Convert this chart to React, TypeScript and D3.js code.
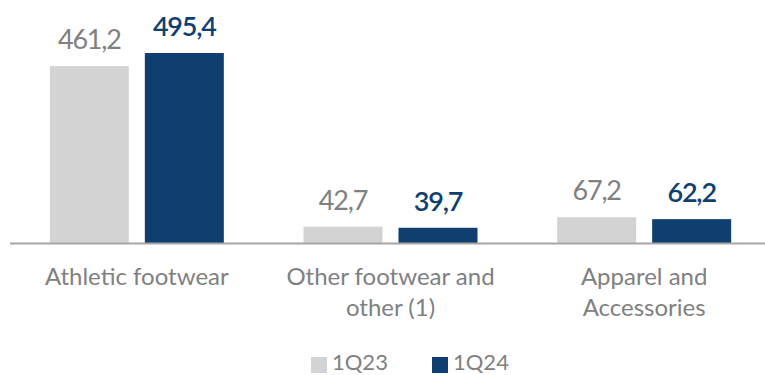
import React from "react";
import * as d3 from "d3";

const categories = ["Athletic footwear", "Other footwear and other (1)", "Apparel and Accessories"];
const categoryLines = [["Athletic footwear"], ["Other footwear and", "other (1)"], ["Apparel and", "Accessories"]];
const seriesNames = ["1Q23", "1Q24"];
const values1Q23 = [461.2, 42.7, 67.2];
const values1Q24 = [495.4, 39.7, 62.2];
const labels1Q23 = ["461,2", "42,7", "67,2"];
const labels1Q24 = ["495,4", "39,7", "62,2"];

const W = 765, H = 375;
const baseY = 243;
const colors = ["#d3d3d3", "#0f3f6f"];
const labelColors = ["#808080", "#0f3f6f"];
const FONT = "Lato, 'Open Sans', sans-serif";

export default function App() {
  const x = d3.scaleBand<string>().domain(categories).range([10, 771]).paddingInner(0).paddingOuter(0);
  const inner = d3.scaleBand<string>().domain(seriesNames).range([0, 174]).paddingInner(16 / 95).paddingOuter(0);
  const y = d3.scaleLinear().domain([0, 495.4]).range([baseY, 53]);
  const series = [values1Q23, values1Q24];
  const labels = [labels1Q23, labels1Q24];
  return (
    <svg width={W} height={H} style={{ position: "absolute", left: 0, top: 0, fontFamily: FONT }}>
      {categories.map((c, i) => {
        const cx = x(c)! + x.bandwidth() / 2;
        const gx = cx - 87;
        return (
          <g key={c}>
            {series.map((s, j) => {
              const bx = gx + inner(seriesNames[j])!;
              const by = y(s[i]);
              return (
                <g key={j}>
                  <rect x={bx} y={by} width={inner.bandwidth()} height={baseY - by} fill={colors[j]} />
                  <text x={bx + inner.bandwidth() / 2} y={by - 17} textAnchor="middle" fontSize={27}
                    letterSpacing={-1.2}
                    fill={labelColors[j]} fontWeight={j === 1 ? 600 : 400}>{labels[j][i]}</text>
                </g>
              );
            })}
            {categoryLines[i].map((ln, k) => (
              <text key={k} x={cx} y={285 + k * 31} textAnchor="middle" fontSize={24} fill="#808080">{ln}</text>
            ))}
          </g>
        );
      })}
      <line x1={10} x2={W} y1={baseY + 0.5} y2={baseY + 0.5} stroke="#a6a6a6" strokeWidth={2} />
      {seriesNames.map((n, j) => (
        <g key={n}>
          <rect x={311 + j * 121} y={357} width={16} height={16} fill={colors[j]} />
          <text x={332 + j * 121} y={370} fontSize={22} fill="#808080">{n}</text>
        </g>
      ))}
    </svg>
  );
}
